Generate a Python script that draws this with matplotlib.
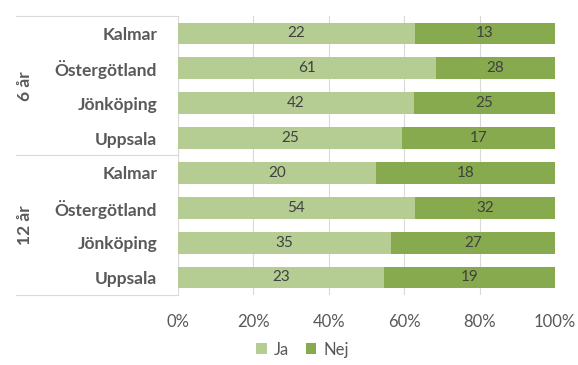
import matplotlib
matplotlib.use("Agg")
import matplotlib.pyplot as plt
import matplotlib.transforms as mtransforms
import numpy as np

plt.rcParams['font.family'] = ['Lato', 'DejaVu Sans']

# data, top to bottom
groups = ["6 år", "12 år"]
regions = ["Kalmar", "Östergötland", "Jönköping", "Uppsala"]
ja = [22, 61, 42, 25, 20, 54, 35, 23]
nej = [13, 28, 25, 17, 18, 32, 27, 19]
series_labels = ["Ja", "Nej"]

col_ja = "#b5cd93"
col_nej = "#87aa4f"
text_gray = "#595959"

fig = plt.figure(figsize=(5.78, 3.65), dpi=100)
ax = fig.add_axes([0.308, 0.192, 0.652, 0.764])

ja_arr = np.array(ja, dtype=float)
nej_arr = np.array(nej, dtype=float)
tot = ja_arr + nej_arr
ja_pct = ja_arr / tot
nej_pct = nej_arr / tot
y = np.arange(len(ja))

b1 = ax.barh(y, ja_pct, height=0.63, color=col_ja, label=series_labels[0], zorder=2)
b2 = ax.barh(y, nej_pct, left=ja_pct, height=0.63, color=col_nej, label=series_labels[1], zorder=2)

for i in range(len(y)):
    ax.text(ja_pct[i] / 2, y[i], str(ja[i]), ha="center", va="center",
            fontsize=11, color="#404040", zorder=3)
    ax.text(ja_pct[i] + nej_pct[i] / 2, y[i], str(nej[i]), ha="center", va="center",
            fontsize=11, color="#404040", zorder=3)

ax.set_xlim(0, 1)
ax.set_ylim(7.5, -0.5)
ax.set_xticks(np.arange(0, 1.01, 0.2))
ax.set_xticklabels(["{}%".format(int(round(v * 100))) for v in np.arange(0, 1.01, 0.2)])
ax.set_yticks(y)
ax.set_yticklabels(regions * 2, fontweight="bold", fontsize=12.5, color=text_gray)
ax.tick_params(axis="y", length=0, pad=15)
ax.tick_params(axis="x", length=0, pad=14, labelsize=12, labelcolor=text_gray)
ax.grid(axis="x", color="#d9d9d9", linewidth=0.8, zorder=0)
for s in ax.spines.values():
    s.set_visible(False)

# group separators and labels
trans = mtransforms.blended_transform_factory(ax.transAxes, ax.transData)
for yy in [-0.5, 3.5, 7.5]:
    ax.plot([-0.43, 0], [yy, yy], color="#d9d9d9", linewidth=0.8,
            transform=trans, clip_on=False)
for gi, g in enumerate(groups):
    ax.text(-0.405, gi * 4 + 1.5, g, rotation=90, ha="center", va="center",
            fontweight="bold", fontsize=12.5, color=text_gray, transform=trans)

fig.legend(handles=[b1, b2], labels=series_labels, loc="center",
           bbox_to_anchor=(0.523, 0.042), ncol=2, frameon=False,
           fontsize=12, handlelength=0.65, handleheight=0.65,
           handletextpad=0.4, columnspacing=1.0, labelcolor=text_gray)

fig.savefig("out.png", dpi=100)
